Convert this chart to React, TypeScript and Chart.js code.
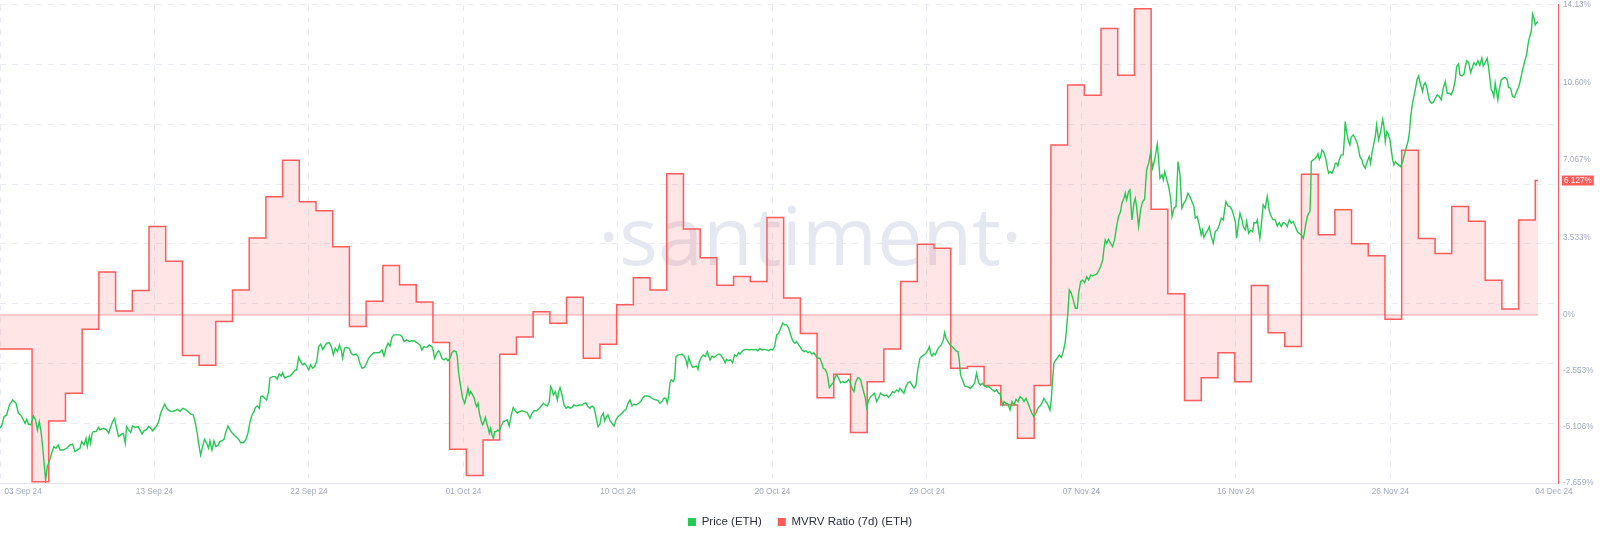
import React, { useEffect, useRef } from "react";
import { Chart, registerables } from "chart.js";

Chart.register(...registerables);

// x values are days since 03 Sep 2024 00:00
const X_MIN = 0.75;
const X_MAX = 94.03;
const GRID_STEP_DAYS = 9.25;
const DAY_START_OFFSET = 0.67; // daily MVRV values start at this fraction of a day
const START_LABEL_INSET = 1.38; // the first and last date labels sit just inside the plot edges
const END_LABEL_INSET = 0.24;

const xTickLabels = [
  "03 Sep 24", "13 Sep 24", "22 Sep 24", "01 Oct 24", "10 Oct 24", "20 Oct 24",
  "29 Oct 24", "07 Nov 24", "16 Nov 24", "26 Nov 24", "04 Dec 24",
];

const mvrvTickValues = [14.13, 10.6, 7.067, 3.533, 0, -2.553, -5.106, -7.659];
const mvrvTickLabels = ["14.13%", "10.60%", "7.067%", "3.533%", "0%", "-2.553%", "-5.106%", "-7.659%"];

// MVRV Ratio (7d), % — one value per day, 03 Sep 24 .. 04 Dec 24
const mvrvDaily = [
  -1.55, -1.55, -7.6, -4.83, -3.57, -0.65, 1.96, 0.18, 1.11, 4.03,
  2.45, -1.85, -2.29, -0.3, 1.14, 3.51, 5.39, 7.05, 5.16, 4.75,
  3.11, -0.53, 0.62, 2.25, 1.38, 0.59, -1.26, -6.12, -7.32, -5.7,
  -1.79, -1.0, 0.15, -0.38, 0.81, -1.97, -1.34, 0.46, 1.7, 1.14,
  6.43, 3.92, 2.61, 1.35, 1.75, 1.52, 4.44, 0.77, -0.84, -3.77,
  -2.7, -5.36, -3.04, -1.55, 1.52, 3.22, 3.04, -2.43, -2.35, -3.22,
  -4.1, -5.62, -3.22, 7.75, 10.48, 10.01, 13.05, 10.92, 13.96, 4.82,
  0.97, -3.9, -2.86, -1.72, -3.05, 1.34, -0.81, -1.44, 6.41, 3.65,
  4.8, 3.25, 2.7, -0.2, 7.51, 3.48, 2.8, 4.94, 4.27, 1.58,
  0.27, 4.33, 6.127,
];

// Price (ETH), USD — [day, price]
const priceSeries: [number, number][] = [
  [0.75, 2399], [0.85, 2405], [0.99, 2439], [1.15, 2445], [1.31, 2481], [1.51, 2499], [1.71, 2487], [1.85, 2451],
  [1.99, 2445], [2.15, 2427], [2.25, 2415], [2.35, 2429], [2.45, 2412], [2.59, 2409], [2.75, 2441], [2.87, 2429],
  [2.99, 2391], [3.1, 2421], [3.22, 2379], [3.34, 2307], [3.48, 2211], [3.58, 2259], [3.7, 2277], [3.84, 2307],
  [3.98, 2331], [4.1, 2325], [4.24, 2337], [4.34, 2319], [4.54, 2319], [4.74, 2325], [4.94, 2337], [5.1, 2340],
  [5.24, 2313], [5.38, 2319], [5.54, 2325], [5.64, 2349], [5.78, 2337], [5.9, 2361], [5.98, 2331], [6.1, 2367],
  [6.18, 2343], [6.26, 2379], [6.34, 2385], [6.5, 2385], [6.64, 2400], [6.74, 2391], [6.94, 2397], [7.1, 2393],
  [7.26, 2379], [7.38, 2403], [7.5, 2421], [7.61, 2433], [7.73, 2397], [7.85, 2367], [7.97, 2373], [8.13, 2379],
  [8.25, 2343], [8.33, 2403], [8.45, 2391], [8.57, 2382], [8.69, 2405], [8.85, 2400], [9.01, 2403], [9.13, 2391],
  [9.25, 2376], [9.37, 2388], [9.53, 2393], [9.65, 2403], [9.77, 2397], [9.89, 2388], [10.01, 2397], [10.13, 2405],
  [10.25, 2421], [10.37, 2451], [10.49, 2469], [10.61, 2484], [10.73, 2469], [10.89, 2460], [11.05, 2457], [11.21, 2460],
  [11.37, 2465], [11.53, 2457], [11.69, 2469], [11.85, 2465], [12.0, 2457], [12.16, 2448], [12.32, 2445], [12.44, 2417],
  [12.56, 2379], [12.64, 2343], [12.76, 2301], [12.88, 2331], [13.0, 2357], [13.12, 2343], [13.24, 2325], [13.32, 2352],
  [13.44, 2319], [13.56, 2352], [13.68, 2331], [13.82, 2337], [13.92, 2349], [14.04, 2352], [14.16, 2357], [14.28, 2385],
  [14.4, 2405], [14.52, 2391], [14.64, 2381], [14.76, 2373], [14.92, 2364], [15.04, 2357], [15.16, 2345], [15.32, 2345],
  [15.48, 2357], [15.6, 2381], [15.72, 2421], [15.84, 2445], [15.96, 2457], [16.04, 2472], [16.16, 2477], [16.28, 2469],
  [16.36, 2511], [16.48, 2513], [16.6, 2505], [16.71, 2499], [16.83, 2529], [16.91, 2577], [17.07, 2583], [17.23, 2583],
  [17.35, 2573], [17.47, 2592], [17.59, 2585], [17.67, 2597], [17.79, 2578], [17.95, 2583], [18.11, 2585], [18.27, 2595],
  [18.43, 2607], [18.51, 2607], [18.63, 2652], [18.75, 2637], [18.87, 2625], [18.99, 2631], [19.11, 2621], [19.23, 2607],
  [19.35, 2625], [19.47, 2613], [19.59, 2619], [19.71, 2637], [19.83, 2691], [19.95, 2700], [20.07, 2681], [20.19, 2693],
  [20.31, 2703], [20.47, 2705], [20.59, 2691], [20.71, 2661], [20.83, 2685], [20.95, 2673], [21.07, 2697], [21.19, 2676],
  [21.26, 2649], [21.38, 2685], [21.5, 2688], [21.66, 2685], [21.78, 2667], [21.9, 2661], [22.06, 2664], [22.18, 2657],
  [22.3, 2631], [22.42, 2613], [22.58, 2616], [22.7, 2631], [22.82, 2649], [22.98, 2661], [23.14, 2669], [23.3, 2669],
  [23.46, 2669], [23.62, 2679], [23.74, 2657], [23.86, 2685], [23.98, 2703], [24.1, 2693], [24.22, 2724], [24.34, 2733],
  [24.5, 2733], [24.7, 2733], [24.82, 2727], [24.94, 2709], [25.1, 2715], [25.26, 2709], [25.42, 2712], [25.57, 2711],
  [25.73, 2705], [25.89, 2697], [26.01, 2679], [26.13, 2691], [26.29, 2688], [26.45, 2697], [26.61, 2691], [26.69, 2676],
  [26.77, 2649], [26.89, 2667], [27.01, 2676], [27.09, 2669], [27.21, 2649], [27.33, 2643], [27.45, 2649], [27.57, 2640],
  [27.69, 2649], [27.81, 2669], [27.93, 2676], [28.05, 2673], [28.13, 2655], [28.21, 2595], [28.33, 2547], [28.45, 2505],
  [28.57, 2487], [28.65, 2505], [28.77, 2541], [28.85, 2517], [28.93, 2529], [29.05, 2517], [29.13, 2508], [29.21, 2487],
  [29.29, 2475], [29.37, 2487], [29.45, 2451], [29.57, 2421], [29.65, 2409], [29.73, 2421], [29.81, 2436], [29.89, 2415],
  [29.97, 2400], [30.05, 2379], [30.13, 2397], [30.21, 2373], [30.29, 2361], [30.37, 2385], [30.45, 2385], [30.56, 2391],
  [30.64, 2385], [30.76, 2405], [30.88, 2421], [31.0, 2424], [31.12, 2427], [31.24, 2405], [31.36, 2445], [31.48, 2472],
  [31.6, 2460], [31.72, 2451], [31.84, 2457], [32.0, 2460], [32.16, 2457], [32.32, 2453], [32.48, 2433], [32.6, 2451],
  [32.72, 2460], [32.88, 2460], [33.04, 2469], [33.16, 2477], [33.28, 2487], [33.4, 2481], [33.52, 2477], [33.64, 2493],
  [33.72, 2547], [33.8, 2537], [33.88, 2517], [34.0, 2529], [34.12, 2499], [34.2, 2529], [34.28, 2543], [34.4, 2517],
  [34.52, 2481], [34.64, 2469], [34.76, 2475], [34.88, 2469], [35.0, 2472], [35.11, 2481], [35.27, 2477], [35.43, 2481],
  [35.59, 2481], [35.71, 2487], [35.83, 2489], [35.95, 2475], [36.07, 2469], [36.19, 2477], [36.31, 2472], [36.39, 2451],
  [36.47, 2427], [36.55, 2403], [36.67, 2412], [36.75, 2439], [36.87, 2451], [36.95, 2424], [37.07, 2439], [37.15, 2445],
  [37.27, 2424], [37.39, 2415], [37.51, 2405], [37.63, 2427], [37.75, 2439], [37.87, 2445], [37.99, 2451], [38.11, 2460],
  [38.23, 2465], [38.35, 2487], [38.47, 2499], [38.59, 2477], [38.71, 2484], [38.83, 2481], [38.99, 2487], [39.11, 2493],
  [39.23, 2505], [39.35, 2513], [39.5, 2513], [39.66, 2511], [39.78, 2505], [39.9, 2501], [40.02, 2499], [40.14, 2497],
  [40.26, 2487], [40.38, 2493], [40.5, 2505], [40.62, 2505], [40.7, 2487], [40.78, 2511], [40.86, 2561], [40.94, 2571],
  [41.06, 2565], [41.14, 2577], [41.22, 2655], [41.34, 2661], [41.46, 2661], [41.58, 2664], [41.7, 2657], [41.82, 2643],
  [41.9, 2621], [41.98, 2652], [42.1, 2631], [42.22, 2616], [42.34, 2619], [42.46, 2621], [42.54, 2609], [42.62, 2637],
  [42.74, 2652], [42.86, 2661], [42.98, 2655], [43.1, 2673], [43.18, 2657], [43.26, 2643], [43.38, 2657], [43.5, 2652],
  [43.62, 2657], [43.74, 2664], [43.85, 2664], [43.97, 2655], [44.09, 2643], [44.17, 2633], [44.25, 2645], [44.37, 2640],
  [44.49, 2643], [44.61, 2633], [44.73, 2661], [44.85, 2657], [44.97, 2669], [45.05, 2664], [45.17, 2673], [45.29, 2679],
  [45.45, 2681], [45.61, 2679], [45.77, 2681], [45.89, 2679], [46.01, 2681], [46.13, 2676], [46.25, 2684], [46.37, 2679],
  [46.49, 2681], [46.65, 2679], [46.77, 2676], [46.89, 2681], [47.01, 2679], [47.13, 2691], [47.25, 2733], [47.37, 2739],
  [47.49, 2757], [47.61, 2775], [47.73, 2769], [47.85, 2769], [47.97, 2757], [48.09, 2733], [48.21, 2712], [48.33, 2703],
  [48.45, 2709], [48.57, 2697], [48.65, 2691], [48.77, 2679], [48.89, 2673], [49.0, 2676], [49.12, 2669], [49.24, 2673],
  [49.36, 2664], [49.48, 2669], [49.6, 2657], [49.72, 2649], [49.84, 2649], [49.96, 2631], [50.04, 2613], [50.16, 2609],
  [50.28, 2592], [50.4, 2543], [50.52, 2553], [50.64, 2561], [50.72, 2577], [50.84, 2589], [50.96, 2577], [51.08, 2561],
  [51.2, 2565], [51.32, 2561], [51.44, 2565], [51.56, 2573], [51.64, 2565], [51.72, 2547], [51.8, 2535], [51.88, 2529],
  [51.96, 2559], [52.04, 2571], [52.12, 2580], [52.2, 2577], [52.28, 2571], [52.4, 2541], [52.48, 2523], [52.56, 2505],
  [52.64, 2472], [52.76, 2499], [52.88, 2511], [52.99, 2517], [53.11, 2523], [53.23, 2493], [53.35, 2505], [53.47, 2523],
  [53.59, 2517], [53.71, 2513], [53.83, 2517], [53.95, 2508], [54.07, 2517], [54.19, 2529], [54.31, 2525], [54.43, 2535],
  [54.55, 2529], [54.63, 2541], [54.75, 2532], [54.87, 2523], [54.99, 2547], [55.11, 2561], [55.23, 2565], [55.35, 2553],
  [55.47, 2541], [55.59, 2553], [55.71, 2613], [55.83, 2649], [55.95, 2657], [56.07, 2661], [56.19, 2667], [56.31, 2679],
  [56.39, 2691], [56.47, 2667], [56.55, 2657], [56.63, 2667], [56.75, 2661], [56.87, 2679], [56.99, 2691], [57.11, 2697],
  [57.23, 2715], [57.31, 2741], [57.39, 2721], [57.51, 2709], [57.63, 2697], [57.75, 2691], [57.86, 2685], [57.98, 2676],
  [58.1, 2673], [58.18, 2643], [58.26, 2589], [58.38, 2571], [58.5, 2549], [58.62, 2547], [58.74, 2545], [58.86, 2541],
  [58.98, 2549], [59.1, 2559], [59.22, 2595], [59.34, 2561], [59.46, 2553], [59.58, 2559], [59.7, 2549], [59.82, 2545],
  [59.94, 2547], [60.06, 2541], [60.18, 2535], [60.3, 2529], [60.42, 2535], [60.54, 2523], [60.62, 2523], [60.7, 2501],
  [60.78, 2481], [60.86, 2493], [60.98, 2487], [61.1, 2484], [61.22, 2463], [61.34, 2493], [61.46, 2481], [61.58, 2501],
  [61.7, 2493], [61.82, 2511], [61.94, 2505], [62.06, 2493], [62.18, 2505], [62.3, 2487], [62.41, 2469], [62.53, 2451],
  [62.65, 2439], [62.77, 2451], [62.89, 2469], [63.01, 2477], [63.13, 2487], [63.25, 2505], [63.37, 2493], [63.49, 2481],
  [63.61, 2463], [63.69, 2499], [63.77, 2571], [63.85, 2631], [63.93, 2640], [64.05, 2649], [64.17, 2661], [64.29, 2652],
  [64.41, 2673], [64.53, 2709], [64.61, 2757], [64.69, 2817], [64.77, 2895], [64.89, 2883], [65.01, 2859], [65.13, 2829],
  [65.25, 2829], [65.33, 2883], [65.45, 2925], [65.57, 2931], [65.69, 2921], [65.81, 2943], [65.93, 2931], [66.05, 2949],
  [66.17, 2945], [66.29, 2949], [66.41, 2952], [66.53, 2964], [66.65, 2979], [66.77, 3003], [66.85, 3045], [66.92, 3075],
  [67.0, 3063], [67.12, 3077], [67.24, 3063], [67.36, 3051], [67.48, 3075], [67.6, 3123], [67.72, 3159], [67.84, 3177],
  [67.92, 3207], [68.04, 3225], [68.12, 3243], [68.2, 3219], [68.32, 3249], [68.4, 3255], [68.52, 3147], [68.64, 3207],
  [68.72, 3225], [68.8, 3195], [68.92, 3123], [69.04, 3183], [69.16, 3213], [69.28, 3221], [69.4, 3327], [69.52, 3351],
  [69.64, 3389], [69.76, 3333], [69.88, 3363], [69.96, 3393], [70.04, 3420], [70.12, 3363], [70.2, 3297], [70.32, 3309],
  [70.4, 3291], [70.48, 3321], [70.56, 3303], [70.64, 3285], [70.72, 3267], [70.84, 3225], [70.92, 3159], [71.04, 3189],
  [71.16, 3195], [71.28, 3357], [71.4, 3309], [71.51, 3189], [71.63, 3207], [71.75, 3219], [71.87, 3243], [71.99, 3231],
  [72.11, 3213], [72.23, 3195], [72.31, 3153], [72.43, 3159], [72.55, 3129], [72.67, 3093], [72.75, 3111], [72.83, 3084],
  [72.95, 3099], [73.07, 3111], [73.15, 3123], [73.27, 3087], [73.39, 3063], [73.51, 3105], [73.63, 3111], [73.75, 3129],
  [73.87, 3153], [73.99, 3147], [74.07, 3183], [74.15, 3213], [74.27, 3197], [74.39, 3195], [74.51, 3183], [74.63, 3159],
  [74.71, 3141], [74.79, 3081], [74.91, 3141], [74.99, 3171], [75.11, 3147], [75.19, 3123], [75.31, 3111], [75.39, 3141],
  [75.51, 3099], [75.63, 3109], [75.75, 3105], [75.83, 3137], [75.95, 3135], [76.03, 3147], [76.1, 3111], [76.18, 3081],
  [76.26, 3123], [76.38, 3201], [76.5, 3189], [76.62, 3231], [76.74, 3180], [76.86, 3159], [76.98, 3147], [77.1, 3147],
  [77.22, 3125], [77.34, 3137], [77.46, 3123], [77.58, 3137], [77.7, 3135], [77.82, 3123], [77.94, 3147], [78.06, 3135],
  [78.18, 3141], [78.3, 3123], [78.42, 3105], [78.54, 3099], [78.66, 3093], [78.78, 3081], [78.86, 3105], [78.94, 3135],
  [79.02, 3159], [79.1, 3171], [79.18, 3177], [79.22, 3243], [79.26, 3357], [79.38, 3363], [79.5, 3369], [79.58, 3375],
  [79.66, 3385], [79.74, 3365], [79.82, 3375], [79.9, 3399], [80.02, 3389], [80.14, 3363], [80.22, 3333], [80.3, 3315],
  [80.38, 3321], [80.5, 3315], [80.62, 3333], [80.7, 3351], [80.78, 3351], [80.85, 3341], [80.93, 3363], [81.05, 3381],
  [81.17, 3381], [81.25, 3447], [81.29, 3501], [81.37, 3465], [81.49, 3429], [81.57, 3417], [81.65, 3445], [81.77, 3453],
  [81.89, 3441], [82.01, 3423], [82.09, 3401], [82.17, 3375], [82.29, 3363], [82.37, 3345], [82.49, 3333], [82.61, 3357],
  [82.73, 3375], [82.81, 3351], [82.89, 3387], [82.97, 3411], [83.09, 3447], [83.17, 3489], [83.29, 3435], [83.41, 3465],
  [83.53, 3509], [83.61, 3483], [83.69, 3429], [83.77, 3465], [83.85, 3459], [83.97, 3435], [84.05, 3399], [84.13, 3363],
  [84.21, 3345], [84.29, 3357], [84.37, 3351], [84.49, 3345], [84.61, 3339], [84.73, 3357], [84.85, 3387], [84.93, 3405],
  [85.05, 3429], [85.13, 3459], [85.21, 3519], [85.29, 3555], [85.36, 3579], [85.48, 3615], [85.6, 3653], [85.68, 3665],
  [85.76, 3645], [85.84, 3627], [85.92, 3609], [86.0, 3633], [86.08, 3641], [86.16, 3627], [86.24, 3603], [86.32, 3579],
  [86.44, 3567], [86.56, 3569], [86.68, 3585], [86.8, 3597], [86.92, 3591], [87.04, 3579], [87.16, 3621], [87.28, 3645],
  [87.4, 3603], [87.52, 3603], [87.64, 3597], [87.76, 3615], [87.88, 3651], [87.96, 3699], [88.08, 3708], [88.16, 3669],
  [88.28, 3665], [88.4, 3672], [88.48, 3699], [88.56, 3720], [88.68, 3713], [88.8, 3677], [88.92, 3699], [89.0, 3713],
  [89.12, 3704], [89.23, 3720], [89.35, 3704], [89.47, 3729], [89.55, 3701], [89.67, 3713], [89.79, 3729], [89.87, 3699],
  [89.95, 3657], [90.03, 3615], [90.11, 3609], [90.19, 3591], [90.27, 3639], [90.35, 3609], [90.43, 3579], [90.51, 3615],
  [90.63, 3651], [90.75, 3657], [90.87, 3660], [90.99, 3651], [91.07, 3624], [91.19, 3621], [91.31, 3591], [91.43, 3588],
  [91.55, 3609], [91.67, 3624], [91.79, 3653], [91.91, 3687], [92.03, 3717], [92.15, 3741], [92.23, 3777], [92.31, 3801],
  [92.43, 3825], [92.51, 3888], [92.59, 3873], [92.67, 3849], [92.75, 3857], [92.83, 3860],
];

const PRICE_MIN = 2200;
const PRICE_MAX = 3920.8;

const GREEN = "#26c953";
const RED = "#ff5b5b";
const PINK = "rgba(255, 91, 91, 0.16)";
const GRID = "#eaecf3";
const TICK_COLOR = "#a2a9c1";
const FONT = "'Liberation Sans', Arial, sans-serif";
const CLEAR = "rgba(0,0,0,0)";

const watermarkPlugin = {
  id: "watermark",
  beforeDatasetsDraw(chart: any) {
    const { ctx, chartArea: a } = chart;
    const fam = "'Open Sans', 'Noto Sans', sans-serif";
    ctx.save();
    ctx.font = `100px ${fam}`;
    const w = ctx.measureText("santiment").width;
    const size = (100 * (a.right - a.left) * 0.245) / w;
    ctx.font = `${size}px ${fam}`;
    ctx.fillStyle = "#e5e8f1";
    ctx.textAlign = "center";
    ctx.textBaseline = "alphabetic";
    const cx = a.left + (a.right - a.left) * 0.52;
    const by = a.top + (a.bottom - a.top) * 0.545;
    ctx.fillText("\u00b7santiment\u00b7", cx, by);
    ctx.restore();
  },
};

const lastValuePlugin = {
  id: "lastValue",
  afterDraw(chart: any) {
    const s = chart.scales.yMvrv;
    const ctx = chart.ctx;
    const v = mvrvDaily[mvrvDaily.length - 1];
    const y = s.getPixelForValue(v);
    const text = `${v.toFixed(3)}%`;
    ctx.save();
    ctx.font = `8.2px ${FONT}`;
    const tw = ctx.measureText(text).width;
    const x0 = s.left + 4;
    ctx.fillStyle = RED;
    ctx.fillRect(x0, y - 5, tw + 4, 10);
    ctx.fillStyle = "#ffffff";
    ctx.textAlign = "left";
    ctx.textBaseline = "middle";
    ctx.fillText(text, x0 + 2, y + 0.5);
    ctx.restore();
  },
};

type XTick = { value: number; label: string; grid: boolean };

export default function App() {
  const canvasRef = useRef<HTMLCanvasElement | null>(null);

  useEffect(() => {
    document.body.style.margin = "0";
    const canvas = canvasRef.current;
    if (!canvas) return;

    const lastDay = priceSeries[priceSeries.length - 1][0];
    const mvrvPoints = mvrvDaily.map((v, i) => ({ x: i + DAY_START_OFFSET, y: v }));
    mvrvPoints.push({ x: lastDay, y: mvrvDaily[mvrvDaily.length - 1] });
    const pricePoints = priceSeries.map(([d, p]) => ({ x: d, y: p }));
    const zeroLine = [
      { x: mvrvPoints[0].x, y: 0 },
      { x: lastDay, y: 0 },
    ];

    // x ticks: gridline at the left edge, then the date labels
    const xTicks: XTick[] = [{ value: X_MIN, label: "", grid: true }];
    xTicks.push({ value: X_MIN + START_LABEL_INSET, label: xTickLabels[0], grid: false });
    for (let k = 1; k < xTickLabels.length - 1; k++) {
      xTicks.push({ value: X_MIN + k * GRID_STEP_DAYS, label: xTickLabels[k], grid: true });
    }
    xTicks.push({ value: X_MAX - END_LABEL_INSET, label: xTickLabels[xTickLabels.length - 1], grid: false });

    const chart = new Chart(canvas, {
      type: "line",
      data: {
        datasets: [
          {
            label: "Price (ETH)",
            data: pricePoints,
            yAxisID: "yPrice",
            borderColor: GREEN,
            backgroundColor: GREEN,
            borderWidth: 1.4,
            pointRadius: 0,
            tension: 0,
            fill: false,
          },
          {
            label: "MVRV Ratio (7d) (ETH)",
            data: mvrvPoints,
            yAxisID: "yMvrv",
            borderColor: RED,
            backgroundColor: PINK,
            borderWidth: 1.5,
            pointRadius: 0,
            stepped: true,
            fill: "origin",
          },
          {
            label: "zero",
            data: zeroLine,
            yAxisID: "yMvrv",
            borderColor: "rgba(255, 91, 91, 0.55)",
            borderWidth: 1,
            pointRadius: 0,
            fill: false,
          },
        ],
      } as any,
      options: {
        animation: false,
        responsive: true,
        maintainAspectRatio: false,
        events: [],
        layout: { autoPadding: false, padding: { top: 0, left: 0, right: 0, bottom: 4.25 } },
        scales: {
          x: {
            type: "linear",
            min: X_MIN,
            max: X_MAX,
            afterBuildTicks: (scale: any) => {
              scale.ticks = xTicks.map((t) => ({ value: t.value }));
            },
            afterFit: (scale: any) => {
              scale.height = 17.25;
            },
            ticks: {
              autoSkip: false,
              maxRotation: 0,
              minRotation: 0,
              align: "center",
              padding: 0,
              color: TICK_COLOR,
              font: { size: 8.2, family: FONT },
              callback: (_v: any, i: number) => xTicks[i].label,
            },
            grid: {
              color: (c: any) => (xTicks[c.index] && xTicks[c.index].grid ? GRID : CLEAR),
              drawTicks: true,
              tickLength: 4,
              tickColor: CLEAR,
              lineWidth: 1,
            },
            border: { display: true, color: "#e1e4ed", width: 1, dash: [6, 6] },
          },
          yPrice: {
            type: "linear",
            position: "left",
            min: PRICE_MIN,
            max: PRICE_MAX,
            ticks: { display: false, count: 9 },
            grid: { color: GRID, drawTicks: false, lineWidth: 1 },
            border: { display: false, dash: [6, 6] },
            afterFit: (scale: any) => {
              scale.width = 0;
            },
          },
          yMvrv: {
            type: "linear",
            position: "right",
            min: -7.659,
            max: 14.13,
            afterBuildTicks: (scale: any) => {
              scale.ticks = mvrvTickValues.map((v) => ({ value: v }));
            },
            afterFit: (scale: any) => {
              scale.width = 42;
            },
            ticks: {
              autoSkip: false,
              padding: 0,
              color: TICK_COLOR,
              font: { size: 8.2, family: FONT },
              callback: (_v: any, i: number) => mvrvTickLabels[i],
            },
            grid: {
              display: true,
              drawOnChartArea: false,
              color: CLEAR,
              drawTicks: true,
              tickLength: 5,
              tickColor: CLEAR,
            },
            border: { display: true, color: RED, width: 1 },
          },
        },
        plugins: {
          tooltip: { enabled: false },
          legend: {
            display: true,
            position: "bottom",
            labels: {
              boxWidth: 8,
              boxHeight: 8,
              padding: 16,
              color: "#2b2f3a",
              font: { size: 11.5, family: FONT },
              generateLabels: (ch: any) => {
                const items = (Chart.defaults as any).plugins.legend.labels.generateLabels(ch);
                return items
                  .filter((it: any) => it.datasetIndex !== 2)
                  .map((it: any) => ({ ...it, fillStyle: it.strokeStyle, lineWidth: 0 }));
              },
            },
          },
        },
      } as any,
      plugins: [watermarkPlugin, lastValuePlugin],
    });

    return () => {
      chart.destroy();
    };
  }, []);

  return (
    <div style={{ position: "relative", width: "1600px", height: "542px" }}>
      <canvas ref={canvasRef} />
    </div>
  );
}
